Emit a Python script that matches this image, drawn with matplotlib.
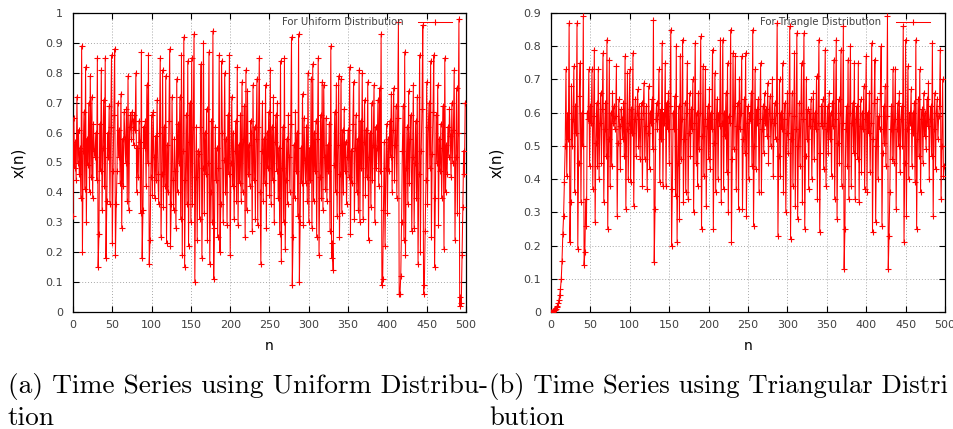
import numpy as np
import matplotlib
matplotlib.use("Agg")
import matplotlib.pyplot as plt

# ---------------- data (values read/, in hundredths) -------------
uni_000 = [32, 65, 48, 57, 44, 72, 50, 61, 46, 55, 38, 89, 20, 54, 67, 41, 82, 30, 58, 49,
           70, 40, 79, 45, 72, 38, 63, 54, 52, 60, 44, 85, 15, 26, 63, 47, 81, 34, 55, 71,
           42, 85, 18, 37, 60, 52, 69, 36, 62, 86, 23, 47, 66, 88, 19, 36, 47, 70, 52, 61,
           43, 73, 28, 58, 42, 67, 58, 50, 68, 37, 79, 34, 62, 66, 58, 67, 64, 56, 66, 61,
           80, 40, 55, 45, 64, 57, 33, 87, 18, 34, 62, 55, 64, 42, 76, 50, 86, 16, 24, 45]
uni_100 = [66, 39, 67, 52, 38, 59, 44, 71, 46, 36, 60, 85, 25, 46, 81, 35, 62, 42, 79, 23,
           56, 40, 64, 88, 22, 36, 72, 44, 34, 58, 47, 28, 78, 40, 63, 50, 72, 31, 86, 19,
           54, 92, 15, 44, 66, 36, 84, 22, 57, 70, 30, 85, 36, 62, 93, 10, 45, 62, 24, 54,
           53, 31, 62, 83, 18, 48, 90, 33, 60, 46, 68, 24, 50, 87, 16, 40, 64, 30, 94, 11,
           28, 62, 44, 55, 25, 48, 86, 20, 36, 84, 60, 30, 51, 80, 40, 58, 29, 66, 46, 86]
uni_200 = [19, 50, 72, 42, 60, 31, 54, 64, 37, 82, 29, 56, 43, 66, 37, 77, 40, 58, 69, 25,
           81, 34, 74, 46, 56, 42, 64, 60, 27, 76, 44, 62, 31, 58, 78, 29, 62, 85, 40, 16,
           54, 70, 37, 58, 43, 76, 28, 60, 48, 67, 39, 81, 36, 62, 44, 72, 30, 57, 66, 47,
           70, 38, 55, 26, 84, 17, 48, 62, 30, 85, 21, 44, 58, 36, 66, 52, 40, 63, 92, 9,
           25, 56, 38, 67, 47, 60, 32, 93, 10, 30, 55, 43, 73, 29, 65, 51, 43, 62, 37, 80]
uni_300 = [30, 55, 44, 78, 28, 83, 37, 60, 47, 64, 25, 58, 85, 19, 45, 66, 38, 77, 34, 76,
           52, 41, 65, 37, 56, 47, 63, 27, 89, 18, 23, 14, 49, 67, 40, 76, 32, 56, 79, 25,
           46, 78, 33, 61, 40, 68, 47, 57, 36, 52, 61, 45, 82, 26, 54, 43, 63, 77, 31, 55,
           66, 40, 58, 34, 81, 30, 64, 48, 80, 31, 57, 71, 39, 61, 45, 77, 24, 52, 60, 35,
           70, 44, 56, 76, 30, 62, 48, 55, 71, 42, 75, 47, 93, 9, 11, 34, 57, 22, 48, 63]
uni_400 = [33, 58, 47, 64, 52, 73, 40, 61, 75, 44, 56, 69, 38, 65, 97, 6, 6, 12, 30, 54,
           69, 24, 87, 19, 48, 62, 36, 74, 43, 58, 66, 27, 52, 76, 28, 50, 64, 38, 72, 16,
           46, 86, 20, 54, 68, 96, 6, 9, 27, 44, 77, 36, 62, 70, 48, 84, 25, 53, 67, 86,
           15, 38, 66, 50, 76, 29, 58, 47, 63, 38, 55, 69, 21, 85, 40, 56, 46, 62, 52, 68,
           59, 45, 70, 50, 61, 81, 24, 52, 75, 33, 60, 98, 2, 5, 3, 19, 35, 54, 46, 70]

tri_ramp = [0.0, 0.001, 0.002, 0.003, 0.005, 0.007, 0.010, 0.014, 0.019, 0.026,
            0.036, 0.050, 0.070, 0.098, 0.155, 0.235, 0.29]
tri_017 = [39, 50, 73, 41, 60, 52, 87, 21, 33, 68, 50, 58, 74, 36, 62, 54, 87, 19, 45, 65,
           75, 33, 60, 50, 89, 14, 18, 34, 26, 60, 58, 73, 44, 62, 57, 73, 37, 59, 79, 27,
           51, 63, 44, 73, 40, 57, 66, 45, 61, 78, 33, 55, 63, 47, 82, 25, 52, 76, 38, 60,
           44, 66, 57, 62, 55, 59, 74, 29, 51, 64, 56, 43, 61, 58, 52, 63, 47, 77, 31, 55,
           72, 40, 57]
tri_100 = [73, 39, 61, 54, 78, 32, 58, 64, 47, 60, 67, 50, 62, 46, 58, 63, 38, 60, 69, 46,
           56, 62, 37, 54, 68, 43, 60, 57, 64, 49, 88, 15, 31, 58, 63, 55, 60, 73, 39, 61,
           52, 81, 38, 60, 57, 75, 38, 63, 55, 66, 45, 62, 85, 20, 37, 60, 55, 65, 35, 80,
           21, 45, 62, 28, 77, 46, 58, 82, 33, 52, 63, 36, 60, 75, 34, 54, 66, 47, 61, 55,
           70, 30, 57, 81, 45, 60, 38, 66, 49, 60, 83, 25, 53, 74, 41, 58, 73, 32, 56, 62]
tri_200 = [46, 67, 43, 60, 55, 79, 25, 51, 72, 36, 58, 64, 40, 60, 56, 82, 33, 57, 82, 37,
           60, 53, 66, 42, 75, 30, 59, 57, 85, 21, 46, 78, 49, 62, 77, 37, 56, 63, 31, 70,
           55, 60, 77, 31, 52, 64, 48, 78, 29, 57, 62, 40, 60, 58, 66, 44, 85, 26, 50, 73,
           43, 61, 57, 64, 36, 58, 75, 36, 55, 62, 48, 66, 57, 61, 53, 69, 45, 60, 65, 50,
           58, 70, 41, 57, 63, 52, 60, 87, 23, 47, 70, 41, 60, 55, 75, 36, 58, 63, 30, 54]
tri_300 = [66, 48, 60, 86, 22, 52, 66, 38, 59, 78, 32, 55, 84, 28, 50, 63, 44, 60, 75, 33,
           58, 84, 25, 47, 70, 52, 61, 37, 60, 56, 64, 40, 58, 66, 46, 60, 55, 71, 34, 57,
           82, 24, 48, 62, 56, 64, 43, 57, 79, 38, 55, 62, 48, 66, 52, 60, 41, 63, 56, 76,
           34, 58, 82, 28, 51, 64, 45, 60, 79, 38, 57, 86, 13, 25, 55, 62, 44, 76, 34, 60,
           80, 38, 57, 63, 48, 75, 34, 58, 62, 46, 75, 33, 56, 64, 42, 60, 55, 68, 37, 58]
tri_400 = [77, 36, 60, 54, 66, 42, 57, 81, 24, 52, 63, 76, 27, 50, 64, 40, 59, 55, 66, 80,
           26, 48, 62, 51, 68, 44, 59, 89, 13, 23, 36, 55, 62, 46, 73, 45, 58, 73, 31, 55,
           63, 50, 66, 42, 58, 62, 50, 86, 21, 45, 82, 29, 55, 74, 40, 60, 57, 67, 44, 60,
           54, 63, 39, 82, 25, 52, 64, 47, 73, 36, 58, 61, 45, 66, 53, 60, 49, 64, 56, 69,
           40, 58, 62, 47, 81, 29, 55, 66, 43, 60, 64, 52, 59, 62, 79, 34, 50, 70, 41, 44]

x_ticks = [0, 50, 100, 150, 200, 250, 300, 350, 400, 450, 500]
y_ticks_a = [0, 0.1, 0.2, 0.3, 0.4, 0.5, 0.6, 0.7, 0.8, 0.9, 1.0]
y_labels_a = ["0", "0.1", "0.2", "0.3", "0.4", "0.5", "0.6", "0.7", "0.8", "0.9", "1"]
y_ticks_b = [0, 0.1, 0.2, 0.3, 0.4, 0.5, 0.6, 0.7, 0.8, 0.9]
y_labels_b = ["0", "0.1", "0.2", "0.3", "0.4", "0.5", "0.6", "0.7", "0.8", "0.9"]
legend_a = "For Uniform Distribution"
legend_b = "For Triangle Distribution"
caption_a = ["(a) Time Series using Uniform Distribu-", "tion"]
caption_b = ["(b) Time Series using Triangular Distri", "bution"]

uniform = np.array(uni_000 + uni_100 + uni_200 + uni_300 + uni_400) / 100.0
triangle = np.concatenate([np.array(tri_ramp),
                           np.array(tri_017 + tri_100 + tri_200 + tri_300 + tri_400) / 100.0])

# ---------------- figure ----------------
fig = plt.figure(figsize=(9.54, 4.29), dpi=100)
W, H = 954, 429


def make_axes(x0, x1, y0, y1):
    return fig.add_axes([x0 / W, 1 - y1 / H, (x1 - x0) / W, (y1 - y0) / H])


tick_col = "#404040"


def style(ax, y, yt, yl, ymax, leg, leg_x):
    n = np.arange(len(y))
    ax.plot(n, y, color="red", lw=0.75, marker="+", ms=5, mew=0.8,
            label=leg, zorder=3)
    ax.set_xlim(0, 500)
    ax.set_ylim(0, ymax)
    ax.set_xticks(x_ticks)
    ax.set_xticklabels([str(t) for t in x_ticks])
    ax.set_yticks(yt)
    ax.set_yticklabels(yl)
    ax.tick_params(direction="in", top=True, right=True, length=4, width=0.8,
                   labelsize=8, labelcolor=tick_col, colors="black")
    ax.tick_params(axis="y", pad=7)
    ax.tick_params(axis="x", pad=6)
    ax.grid(True, color="#a8a8a8", linestyle=(0, (1, 2)), lw=0.7, zorder=0)
    ax.set_axisbelow(True)
    for s in ax.spines.values():
        s.set_color("black")
        s.set_linewidth(0.9)
    ax.set_xlabel("n", fontsize=10, labelpad=6)
    ax.set_ylabel("x(n)", fontsize=11, labelpad=14)
    lg = ax.legend(loc="upper right", bbox_to_anchor=(leg_x, 1.0), frameon=False,
                   fontsize=7.3, markerfirst=False, handlelength=3.3,
                   borderaxespad=0.0, handletextpad=1.5)
    for t in lg.get_texts():
        t.set_color(tick_col)


ax1 = make_axes(73, 466, 13, 312)
style(ax1, uniform, y_ticks_a, y_labels_a, 1.0, legend_a, (456 - 73) / 393)
ax2 = make_axes(551, 945, 13, 312)
style(ax2, triangle, y_ticks_b, y_labels_b, 0.9, legend_b, (934 - 551) / 394)

cap_a_kw = dict(fontfamily="cmr10", fontsize=19.7, va="center", ha="left", color="black")
cap_b_kw = dict(fontfamily="cmr10", fontsize=19.2, va="center", ha="left", color="black")
fig.text(8 / W, 1 - 387 / H, caption_a[0], **cap_a_kw)
fig.text(8 / W, 1 - 418 / H, caption_a[1], **cap_a_kw)
fig.text(489 / W, 1 - 387 / H, caption_b[0], **cap_b_kw)
fig.text(489 / W, 1 - 418 / H, caption_b[1], **cap_b_kw)

fig.savefig("out.png", dpi=100)
